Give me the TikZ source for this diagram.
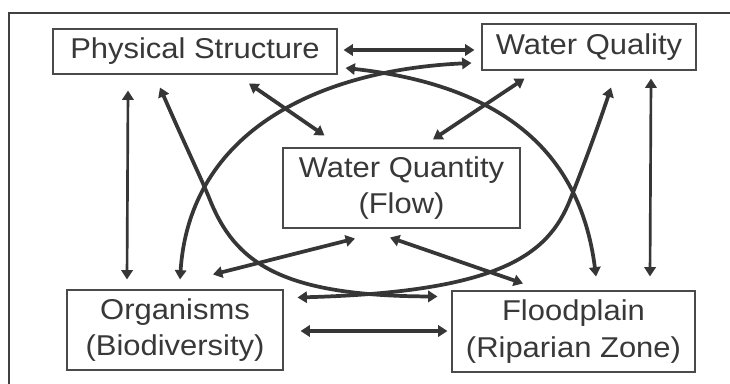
\documentclass[tikz,border=0pt]{standalone}
\usepackage{fontspec}
\setmainfont{Liberation Sans}[FakeStretch=1.08]
\usetikzlibrary{arrows.meta,calc}
\definecolor{linegray}{HTML}{363636}
\definecolor{boxgray}{HTML}{4A4A4A}
\definecolor{txtgray}{HTML}{383838}
\tikzset{
  box/.style={draw=boxgray, line width=0.8pt, inner sep=0pt, align=center,
    font=\fontsize{21.5}{27.5}\selectfont, text=txtgray},
  link/.style={draw=linegray, line width=2.8pt,
    {Triangle[length=7pt,width=8.5pt]}-{Triangle[length=7pt,width=8.5pt]}},
  thinlink/.style={link, line width=2pt},
  frame/.style={draw=black!75, line width=0.8pt}
}
\begin{document}
\begin{tikzpicture}[x=0.75pt,y=-0.75pt]
\useasboundingbox (0,0) rectangle (730,384);
\fill[white] (0,0) rectangle (730,384);
\draw[frame] (9,384) -- (9,13) -- (730,13);

\node[box, minimum width=213pt, minimum height=33.75pt] (PS) at (195,51.5) {Physical Structure};
\node[box, minimum width=160.5pt, minimum height=34.5pt] (WQ) at (589,47) {Water Quality};
\node[box, minimum width=177.75pt, minimum height=60pt] (WQty) at (401.5,188) {Water Quantity\\(Flow)};
\node[box, minimum width=162pt, minimum height=60pt] (Org) at (175,330) {Organisms\\(Biodiversity)};
\node[box, minimum width=182.25pt, minimum height=60.75pt] (FP) at (573.5,331.5) {Floodplain\\(Riparian Zone)};

% straight links
\draw[link] ($(PS.east)+(6,-1.5)$) -- ($(WQ.west)+(-7,3)$);
\draw[link] ($(PS.south)+(54,9)$) -- ($(WQty.north west)+(42,-12)$);
\draw[link] ($(WQ.south west)+(43,8)$) -- ($(WQty.north)+(31.5,-8)$);
\draw[thinlink] ($(PS.south)+(-67,16)$) -- ($(Org.north)+(-48,-10)$);
\draw[thinlink] ($(WQ.south)+(62,8)$) -- ($(FP.north)+(76.5,-14)$);
\draw[link] ($(Org.north)+(38,-15)$) -- ($(WQty.south)+(-46.5,10)$);
\draw[link] ($(WQty.south)+(-11.5,9)$) -- ($(FP.north)+(-50.5,-7)$);
\draw[link] ($(Org.east)+(17,1)$) -- ($(FP.west)+(-4,-0.5)$);

% curved links
\draw[link] ($(PS.east)+(8,16.5)$) .. controls (500,85) and (580,150) .. ($(FP.north)+(22.5,-14)$);
\draw[link] ($(WQ.west)+(-10,16)$) .. controls (320,70) and (190,130) .. ($(Org.north)+(5,-10)$);
\draw[link] ($(PS.south)+(-35,13)$) .. controls (185,145) and (202,180) .. (210,200)
   .. controls (235,262) and (280,296) .. ($(FP.north west)+(-14,6)$);
\draw[link] ($(WQ.south)+(22,17)$) .. controls (597,130) and (580,175) .. (570,200)
   .. controls (548,255) and (500,292) .. ($(Org.north east)+(14,8)$);
\end{tikzpicture}
\end{document}
